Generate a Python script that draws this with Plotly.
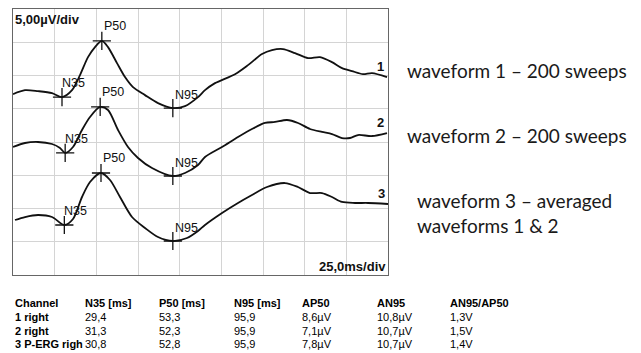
import numpy as np
import plotly.graph_objects as go

# ---------------- data ----------------
# time axis (ms) and amplitude (µV, relative to each trace's own start)
w1_t = [0, 7.2, 15, 23.4, 29.4, 35.4, 40.2, 45, 49.2, 53.3, 57, 62.4, 67.2, 72, 79.2, 87, 95.9, 103.2, 111,
        115.2, 121.2, 133.2, 141, 149.4, 155.4, 162, 169.2, 177, 184.2, 191.4, 197.4, 203.4, 210, 215.4, 224.4]
w1_v = [0, 0.6, 0.45, 0.15, -0.45, 0.6, 2.86, 5.56, 7.07, 8.0, 7.07, 4.66, 2.56, 1.05, -0.15, -1.35, -2.1, -1.8, -0.45,
        0.6, 1.65, 3.0, 4.36, 6.02, 6.62, 6.77, 6.17, 5.41, 5.56, 4.81, 3.91, 3.46, 3.0, 3.16, 2.56]

w2_t = [0, 7.2, 15, 23.4, 28.2, 31.3, 36, 41.4, 46.2, 52.3, 57, 63, 69, 75, 83.4, 95.9, 103.2, 111, 115.2,
        125.4, 135, 143.4, 151.2, 157.2, 164.4, 171, 178.2, 185.4, 191.4, 197.4, 202.2, 207, 215.4, 224.4]
w2_v = [0, 0.6, 0.75, 0.45, -0.15, -0.9, 0, 2.56, 4.51, 6.02, 5.56, 2.56, 0, -1.65, -3.16, -4.36, -3.91, -2.71, -1.5,
        0, 1.5, 2.71, 3.61, 3.76, 4.06, 3.61, 2.71, 2.26, 1.95, 1.35, 1.35, 1.8, 1.65, 2.1]

w3_t = [1.2, 7.2, 15, 23.4, 30.8, 36, 41.4, 46.2, 52.8, 58.2, 64.2, 71.4, 79.2, 87, 95.9, 104.4, 111, 115.2,
        125.4, 135, 143.4, 152.4, 163.2, 171, 178.2, 185.4, 191.4, 197.4, 205.2, 213, 225]
w3_v = [0, 0.45, 0.75, 0.45, -0.75, 0.15, 3.46, 5.71, 7.07, 6.02, 3.46, 0.45, -1.2, -2.56, -3.16, -2.71, -1.65, -0.75,
        1.05, 2.56, 3.76, 4.96, 5.56, 4.96, 4.06, 4.06, 3.46, 2.71, 2.56, 2.56, 2.41]

trace_offsets_uv = [27.2, 19.25, 8.27]
trace_labels = ["1", "2", "3"]

# peak latencies (ms) from the table
n35_ms = [29.4, 31.3, 30.8]
p50_ms = [53.3, 52.3, 52.8]
n95_ms = [95.9, 95.9, 95.9]

# table
tbl_headers = ["Channel", "N35 [ms]", "P50 [ms]", "N95 [ms]", "AP50", "AN95", "AN95/AP50"]
tbl_channel = ["1 right", "2 right", "3 P-ERG righ"]
tbl_n35 = ["29,4", "31,3", "30,8"]
tbl_p50 = ["53,3", "52,3", "52,8"]
tbl_n95 = ["95,9", "95,9", "95,9"]
tbl_ap50 = ["8,6µV", "7,1µV", "7,8µV"]
tbl_an95 = ["10,8µV", "10,7µV", "10,7µV"]
tbl_ratio = ["1,3V", "1,5V", "1,4V"]

side_notes = ["waveform 1 – 200 sweeps", "waveform 2 – 200 sweeps",
              "waveform 3 – averaged", "waveforms 1 & 2"]

# ---------------- figure ----------------
W, H = 641, 353
ML, MR, MT, MB = 13, 253, 9, 78
PW, PH = W - ML - MR, H - MT - MB

def px_x(px):
    return (px - ML) / PW

def px_y(py):
    return (H - MB - py) / PH

fig = go.Figure()
waves = [(w1_t, w1_v), (w2_t, w2_v), (w3_t, w3_v)]
ann = []
for i, (t, v) in enumerate(waves):
    off = trace_offsets_uv[i]
    y = np.array(v) + off
    fig.add_trace(go.Scatter(x=t, y=y, mode="lines",
                             line=dict(color="#111", width=1.8, shape="spline", smoothing=0.8),
                             hoverinfo="skip", showlegend=False))
    pk_t = [n35_ms[i], p50_ms[i], n95_ms[i]]
    pk_v = np.interp(pk_t, t, v) + off
    fig.add_trace(go.Scatter(x=pk_t, y=pk_v, mode="markers",
                             marker=dict(symbol="cross-thin", size=13,
                                         line=dict(color="#111", width=1.3)),
                             hoverinfo="skip", showlegend=False))
    for name, tx, vy, xs, ys in zip(["N35", "P50", "N95"], pk_t, pk_v,
                                    [-2, 0, 0], [5, 6, 4]):
        ann.append(dict(x=tx, y=vy, xref="x", yref="y", text=name, showarrow=False,
                        xanchor="left", yanchor="bottom", xshift=xs, yshift=ys,
                        font=dict(family="Liberation Sans, Arial", size=12.5, color="#111")))
    ann.append(dict(x=t[-1], y=v[-1] + off, xref="x", yref="y", text="<b>" + trace_labels[i] + "</b>",
                    showarrow=False, xanchor="right", yanchor="bottom", xshift=-1, yshift=1,
                    font=dict(family="Liberation Sans, Arial", size=13, color="#111")))

ann.append(dict(x=px_x(13), y=px_y(20), xref="paper", yref="paper", text="<b>5,00µV/div</b>",
                showarrow=False, xanchor="left", yanchor="middle",
                font=dict(family="Liberation Sans, Arial", size=13, color="#111")))
ann.append(dict(x=px_x(388), y=px_y(266), xref="paper", yref="paper", text="<b>25,0ms/div</b>",
                showarrow=False, xanchor="right", yanchor="middle",
                font=dict(family="Liberation Sans, Arial", size=13, color="#111")))

# side notes
note_pos = [(405, 70), (405, 135), (415, 200), (415, 225)]
for txt, (nx, ny) in zip(side_notes, note_pos):
    ann.append(dict(x=px_x(nx), y=px_y(ny), xref="paper", yref="paper", text=txt,
                    showarrow=False, xanchor="left", yanchor="middle",
                    font=dict(family="Lato, Open Sans", size=19, color="#1a1a1a")))

# table
col_x = [13, 83, 157, 232, 300, 375, 448]
row_y = [303, 317, 331, 344]
cols = [tbl_channel, tbl_n35, tbl_p50, tbl_n95, tbl_ap50, tbl_an95, tbl_ratio]
tfont = dict(family="Liberation Sans, Arial", size=11, color="#000")
for c, (hdr, vals) in enumerate(zip(tbl_headers, cols)):
    ann.append(dict(x=px_x(col_x[c]), y=px_y(row_y[0]), xref="paper", yref="paper",
                    text="<b>" + hdr + "</b>", showarrow=False, xanchor="left", yanchor="middle", font=tfont))
    for r, val in enumerate(vals):
        txt = "<b>" + val + "</b>" if c == 0 else val
        ann.append(dict(x=px_x(col_x[c]), y=px_y(row_y[r + 1]), xref="paper", yref="paper",
                        text=txt, showarrow=False, xanchor="left", yanchor="middle",
                        font=tfont))

fig.update_layout(
    width=W, height=H, margin=dict(l=ML, r=MR, t=MT, b=MB),
    paper_bgcolor="white", plot_bgcolor="white",
    annotations=ann, showlegend=False,
    xaxis=dict(range=[0, 225], dtick=25, tick0=0, showticklabels=False, ticks="",
               showgrid=True, gridcolor="#d4d4d4", gridwidth=1, zeroline=False,
               showline=True, linecolor="#666", linewidth=1.2, mirror=True, fixedrange=True),
    yaxis=dict(range=[0, 40], dtick=5, tick0=0, showticklabels=False, ticks="",
               showgrid=True, gridcolor="#d4d4d4", gridwidth=1, zeroline=False,
               showline=True, linecolor="#666", linewidth=1.2, mirror=True, fixedrange=True),
)

fig.write_html("out.html")
